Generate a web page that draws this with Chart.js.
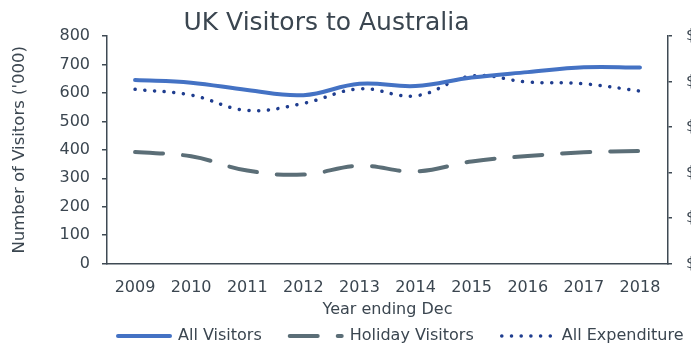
<!DOCTYPE html>
<html>
<head>
<meta charset="utf-8">
<script src="https://cdn.jsdelivr.net/npm/chart.js@4/dist/chart.umd.min.js"></script>
<style>
  html, body { margin: 0; padding: 0; background: #fff; }
  #wrap { position: relative; width: 691px; height: 346px; overflow: hidden; }
</style>
</head>
<body>
<div id="wrap"><canvas id="ukChart"></canvas></div>
<script>
// values
const years = ['2009', '2010', '2011', '2012', '2013', '2014', '2015', '2016', '2017', '2018'];
const allVisitors = [645, 636, 610, 592, 632, 624, 654, 673, 690, 689];       // '000
const holidayVisitors = [392, 377, 327, 313, 344, 324, 359, 378, 391, 396];   // '000
const allExpenditure = [3828, 3702, 3366, 3520, 3840, 3686, 4120, 3988, 3950, 3790]; // $m, right axis
const visitorTicks = [0, 800, 100];
const spendTicks = [0, 5000, 1000];

const txt = '#3b4650';
const axisCol = '#3f4a54';
const fontFam = '"DejaVu Sans", Verdana, sans-serif';

// legend sits lower / further right than Chart.js would put it, title a bit left (Excel layout)
const legendGap = 28;
const legendStartX = 118;
const legendRowY = 328;
const titleShift = -19;

const layoutNudge = {
  id: 'layoutNudge',
  beforeLayout(chart) {
    const lg = chart.legend;
    if (lg && !lg._wrapped) {
      const fit = lg.fit;
      lg.fit = function() { fit.call(this); this.height = 27; };
      lg._wrapped = true;
    }
  },
  afterLayout(chart) {
    const lg = chart.legend;
    const w = lg.right - lg.left;
    lg.left = legendStartX - legendGap;
    lg.right = lg.left + w;
    lg.top = legendRowY - legendGap;
    const tb = chart.titleBlock;
    tb.left += titleShift;
    tb.right += titleShift;
  }
};

const ctx = document.getElementById('ukChart').getContext('2d');
new Chart(ctx, {
  type: 'line',
  data: {
    labels: years,
    datasets: [
      { label: 'All Visitors', data: allVisitors, yAxisID: 'y',
        borderColor: '#4472c4', backgroundColor: '#4472c4', borderWidth: 4,
        borderCapStyle: 'round', tension: 0.4, pointRadius: 0 },
      { label: 'Holiday Visitors', data: holidayVisitors, yAxisID: 'y',
        borderColor: '#5b6e77', backgroundColor: '#5b6e77', borderWidth: 4,
        borderDash: [28, 20], borderCapStyle: 'round', tension: 0.4, pointRadius: 0 },
      { label: 'All Expenditure', data: allExpenditure, yAxisID: 'y1',
        borderColor: '#1f3d8f', backgroundColor: '#1f3d8f', borderWidth: 3.5,
        borderDash: [0.1, 9.6], borderCapStyle: 'round', tension: 0.4, pointRadius: 0 }
    ]
  },
  options: {
    responsive: true,
    maintainAspectRatio: false,
    animation: false,
    layout: { padding: 0 },
    plugins: {
      title: {
        display: true, text: 'UK Visitors to Australia', color: txt,
        font: { family: fontFam, size: 25, weight: 'normal', lineHeight: 1 },
        padding: { top: 11, bottom: 0 }
      },
      legend: {
        position: 'bottom', align: 'start',
        labels: {
          color: txt, font: { family: fontFam, size: 16 },
          usePointStyle: true, pointStyle: 'line', pointStyleWidth: 52,
          padding: legendGap,
          generateLabels: chart => {
            const items = Chart.defaults.plugins.legend.labels.generateLabels(chart);
            items.forEach(it => {
              const ds = chart.data.datasets[it.datasetIndex];
              it.lineDash = ds.borderDash || [];
              it.lineCap = ds.borderCapStyle;
              it.lineWidth = ds.borderWidth;
              it.strokeStyle = ds.borderColor;
              it.pointStyle = 'line';
            });
            return items;
          }
        }
      },
      tooltip: { enabled: false }
    },
    scales: {
      x: {
        offset: true,
        grid: { display: false, drawTicks: true, tickLength: 15 },
        border: { display: true, color: axisCol, width: 1.5 },
        ticks: { color: txt, font: { family: fontFam, size: 16 }, padding: 0, maxRotation: 0 },
        title: { display: true, text: 'Year ending Dec', color: txt,
          font: { family: fontFam, size: 16 }, padding: { top: 2, bottom: 0 } }
      },
      y: {
        position: 'left',
        min: visitorTicks[0], max: visitorTicks[1],
        afterFit: s => { s.width = 107; },
        grid: { drawOnChartArea: false, tickLength: 5, color: axisCol, lineWidth: 1.5 },
        border: { display: true, color: axisCol, width: 1.5 },
        ticks: { stepSize: visitorTicks[2], color: txt, font: { family: fontFam, size: 16 }, padding: 12 },
        title: { display: true, text: "Number of Visitors ('000)", color: txt,
          font: { family: fontFam, size: 16.5 }, padding: { top: 10, bottom: 0 } }
      },
      y1: {
        position: 'right',
        min: spendTicks[0], max: spendTicks[1],
        afterFit: s => { s.width = 23; },
        grid: { drawOnChartArea: false, tickLength: 4, color: axisCol, lineWidth: 1.5 },
        border: { display: true, color: axisCol, width: 1.5 },
        ticks: { stepSize: spendTicks[2], color: txt, font: { family: fontFam, size: 16 }, padding: 14,
          callback: v => '$' + v.toLocaleString('en-US') + 'm' }
      }
    }
  },
  plugins: [layoutNudge]
});
</script>
</body>
</html>
